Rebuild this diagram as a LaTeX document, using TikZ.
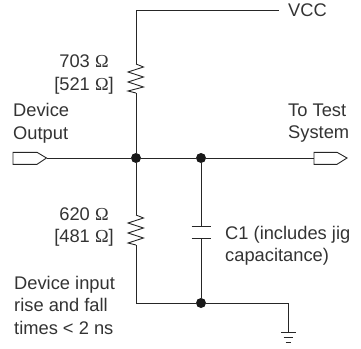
\documentclass[tikz,border=0pt]{standalone}
\usepackage{fontspec}
\setmainfont{Liberation Sans}
\newfontfamily\omfont{Liberation Serif}
\newcommand{\Om}{{\omfont Ω}}
\begin{document}
\begin{tikzpicture}[x=1pt,y=-1pt,
  wire/.style={line width=0.9pt,draw=black!85,line join=miter},
  dot/.style={circle,fill=black!90,inner sep=0pt,minimum size=10pt},
  lab/.style={inner sep=0pt,font=\fontsize{18.3}{22.5}\selectfont,text=black!80,align=left,anchor=north west},
  labr/.style={inner sep=0pt,font=\fontsize{18.3}{22.5}\selectfont,text=black!80,align=center,anchor=center}]
\useasboundingbox (0,0) rectangle (361,348);
\node[dot] (j1) at (136,158) {};
\node[dot] (j2) at (201,158) {};
\node[dot] (j3) at (201,303) {};
\coordinate (top) at (136,10);
\coordinate (vccend) at (279,10);
\coordinate (r1t) at (136,64);
\coordinate (r1b) at (136,93);
\coordinate (r2t) at (136,215);
\coordinate (r2b) at (136,245);
\coordinate (lc) at (136,303);
\coordinate (gc) at (288,303);
\coordinate (gt) at (288,332);
\coordinate (c1) at (201,226);
\coordinate (c2) at (201,238);
\coordinate (ltip) at (46.5,158);
\coordinate (rport) at (314,158);
% wires
\draw[wire] (r1t) -- (top) -- (vccend);
\draw[wire] (r1b) -- (j1);
\draw[wire] (j1) -- (r2t);
\draw[wire] (r2b) -- (lc) -- (j3);
\draw[wire] (j3) -- (gc) -- (gt);
\draw[wire] (ltip) -- (j1);
\draw[wire] (j1) -- (j2);
\draw[wire] (j2) -- (rport);
\draw[wire] (j2) -- (c1);
\draw[wire] (c2) -- (j3);
% capacitor plates
\draw[wire] (191.5,226) -- (211,226);
\draw[wire] (191.5,238) -- (211,238);
% resistors
\draw[wire] (r1t) -- (143.5,67) -- (128,72) -- (143.5,77) -- (128,82) -- (143.5,87) -- (128,91) -- (r1b);
\draw[wire] (r2t) -- (143.5,218) -- (128,223) -- (143.5,228) -- (128,233) -- (143.5,238) -- (128,243) -- (r2b);
% ground
\draw[wire] (281,332.3) -- (295.5,332.3);
\draw[wire] (283.7,337.7) -- (293,337.7);
\draw[wire] (285.7,342.7) -- (291,342.7);
% ports
\draw[wire] (13,152.3) -- (37,152.3) -- (ltip) -- (37,164.3) -- (13,164.3) -- cycle;
\draw[wire] (rport) -- (314,152.3) -- (337,152.3) -- (347,158) -- (337,164.3) -- (314,164.3) -- cycle;
% labels
\node[lab] (vcc) at (288,3.5) {VCC};
\node[labr] (r1lab) at (84,74.5) {703 \Om\\{[}521 \Om{]}};
\node[lab] (dout) at (13,103.5) {Device\\Output};
\node[lab] (tts) at (288,103.5) {To Test\\System};
\node[labr] (r2lab) at (84,227) {620 \Om\\{[}481 \Om{]}};
\node[lab] (note) at (14,276) {Device input\\rise and fall\\times < 2 ns};
\node[lab] (clab) at (225,226) {C1 (includes jig\\capacitance)};
\end{tikzpicture}
\end{document}
